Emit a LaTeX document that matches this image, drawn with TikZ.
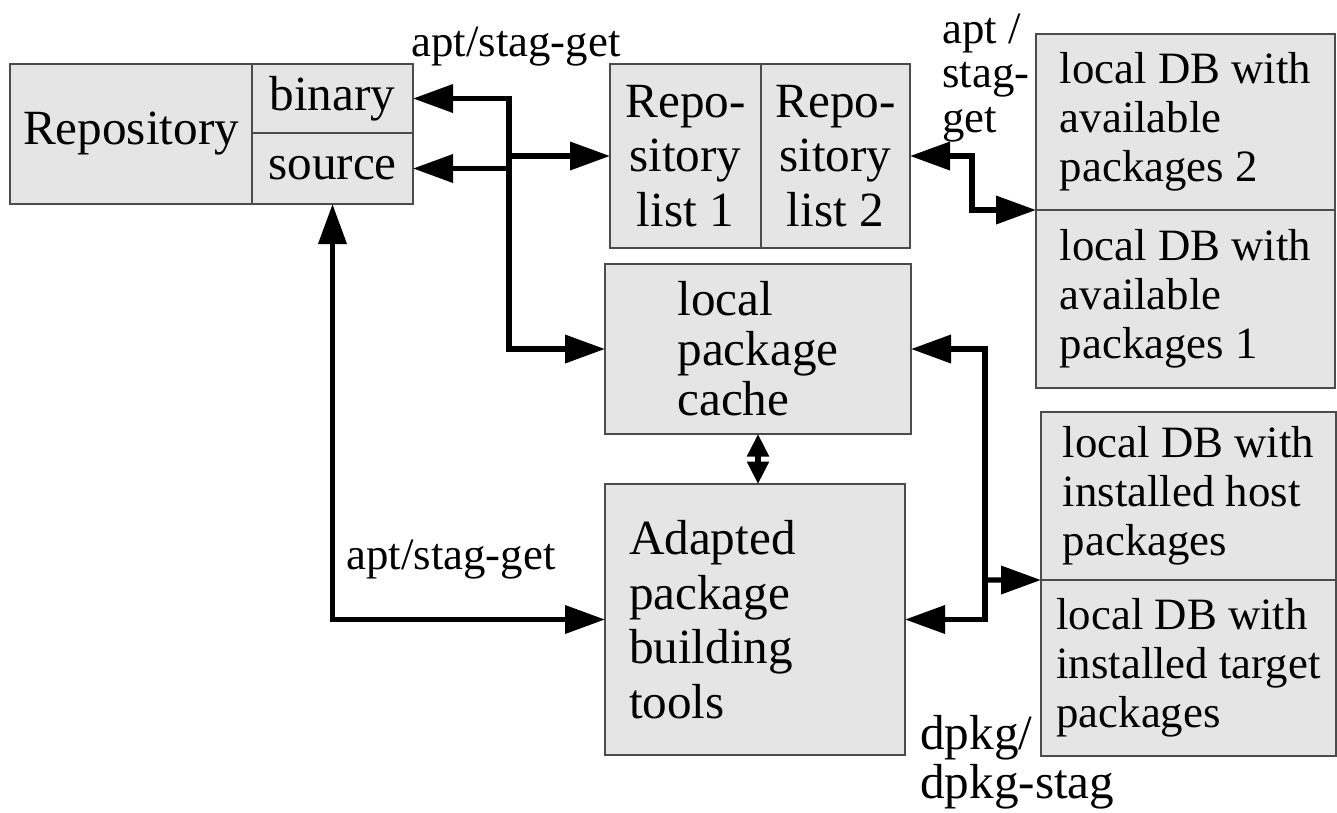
\documentclass[tikz,border=0pt]{standalone}
\usepackage{fontspec}
\setmainfont{Liberation Serif}
\usetikzlibrary{arrows.meta,positioning}
\tikzstyle{block} = [rectangle, draw=black!70, line width=0.7pt, fill=black!10, outer sep=0pt, inner sep=0pt, align=center, font=\fontsize{28}{31}\selectfont]
\tikzstyle{dbblock} = [block, align=left, minimum width=5.98cm, font=\fontsize{25.5}{28}\selectfont]
\tikzstyle{note} = [inner sep=0pt, align=left, font=\fontsize{25.5}{25.5}\selectfont]
\tikzstyle{arrow} = [line width=3pt, >={Triangle[length=0.8cm,width=0.55cm]}]

\begin{document}
\begin{tikzpicture}
    \useasboundingbox (0,0) rectangle (26.74,-16.24);
    % Place nodes
    \node [block, minimum width=4.84cm, minimum height=2.8cm] (repo) at (2.62,-2.68) {Repository};
    \node [block, anchor=north west, minimum width=3.22cm, minimum height=1.38cm] (binary) at (repo.north east) {binary};
    \node [block, anchor=north west, minimum width=3.22cm, minimum height=1.42cm] (source) at (binary.south west) {source};

    \node [block, minimum width=3.02cm, minimum height=3.68cm] (list1) at (13.71,-3.12) {Repo-\\sitory\\list 1};
    \node [block, anchor=west, minimum width=2.98cm, minimum height=3.68cm] (list2) at (list1.east) {Repo-\\sitory\\list 2};
    \node [block, align=left, minimum width=6.12cm, minimum height=3.4cm, font=\fontsize{28}{28.5}\selectfont] (cache) at (15.16,-6.98) {local\\package\\cache};
    \node [block, align=left, inner xsep=0.48cm, text width=5.04cm, minimum height=5.42cm] (tools) at (15.1,-12.39) {Adapted\\package\\building\\tools};

    \node [dbblock, minimum height=3.52cm] (avail2) at (23.71,-2.44) {local DB with\\available\\packages 2};
    \node [dbblock, anchor=north, minimum height=3.56cm] (avail1) at (avail2.south) {local DB with\\available\\packages 1};
    \node [dbblock, minimum width=5.9cm, minimum height=3.36cm] (host) at (23.77,-9.92) {local DB with\\installed host\\packages};
    \node [dbblock, anchor=north, minimum width=5.9cm, minimum height=3.52cm] (target) at (host.south) {local DB with\\installed target\\packages};

    \node [note] (aptrepo) at (10.32,-0.94) {apt/stag-get};
    \node [note, anchor=west] (aptdb) at (18.84,-1.56) {apt /\\stag-\\get};
    \node [note] (aptbuild) at (9.02,-11.2) {apt/stag-get};
    \node [note, anchor=west, font=\fontsize{28}{28}\selectfont] (dpkg) at (18.4,-15.24) {dpkg/\\dpkg-stag};

    \coordinate (busA) at (10.18,-3.12);
    \coordinate (busB) at (19.44,-3.12);
    \coordinate (busC) at (19.7,-11.6);

    \draw [arrow, <->] (binary.east) -| (busA) |- (cache.west);
    \draw [arrow, <-] (source.east) -- (source.east -| busA);
    \draw [arrow, ->] (busA) -- (list1.west);
    \draw [arrow, <->] (list2.east) -- (busB) |- (avail2.south west);
    \draw [arrow, <->] (cache.east) -| (busC) |- (tools.east);
    \draw [arrow, ->] (busC) -- (host.south west);
    \draw [arrow, <->] (source.south) |- (tools.west);
    \draw [arrow, <->, >={Triangle[length=0.45cm,width=0.42cm]}] (cache.south) -- (cache.south |- tools.north);
\end{tikzpicture}
\end{document}
